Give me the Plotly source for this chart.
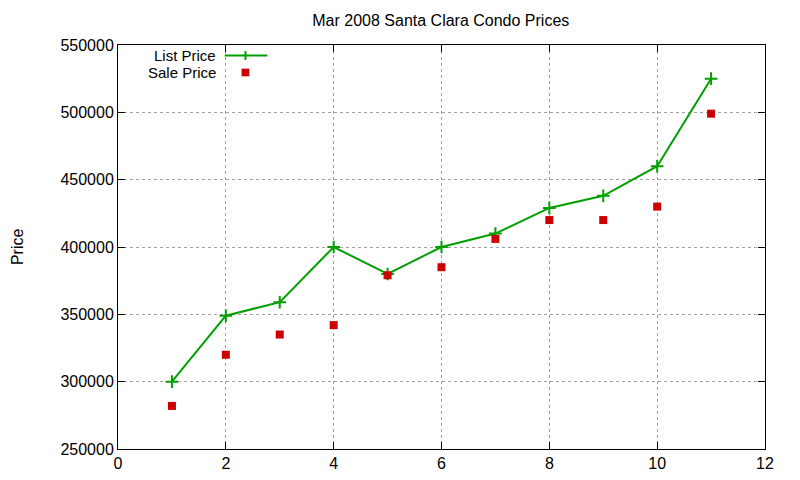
import plotly.graph_objects as go

# data
months = [1, 2, 3, 4, 5, 6, 7, 8, 9, 10, 11]
list_price = [300000, 349000, 359000, 400000, 380000, 400000, 410000, 429000, 438000, 460000, 525000]
sale_price = [282000, 320000, 335000, 342000, 379000, 385000, 406000, 420000, 420000, 430000, 499000]

x_ticks = [0, 2, 4, 6, 8, 10, 12]
y_ticks = [250000, 300000, 350000, 400000, 450000, 500000, 550000]

GREEN = "#00a000"
RED = "#cc0000"
FONT = "Liberation Sans, Arial, sans-serif"

fig = go.Figure()

fig.add_trace(go.Scatter(
    x=months, y=list_price, mode="lines+markers", name="List Price",
    line=dict(color=GREEN, width=2),
    marker=dict(symbol="cross-thin", size=9, line=dict(color=GREEN, width=2)),
))
fig.add_trace(go.Scatter(
    x=months, y=sale_price, mode="markers", name="Sale Price",
    marker=dict(symbol="square", size=8, color=RED),
))

# gnuplot-style legend: text on the left, sample on the right
lx0, lx1, lxm = 0.165, 0.231, 0.197
ly_list, ly_sale = 0.974, 0.932
fig.add_shape(type="line", xref="paper", yref="paper", x0=lx0, x1=lx1, y0=ly_list, y1=ly_list,
              line=dict(color=GREEN, width=2))
fig.add_shape(type="line", xref="paper", yref="paper", x0=lxm, x1=lxm, y0=ly_list - 0.011, y1=ly_list + 0.011,
              line=dict(color=GREEN, width=2))
fig.add_shape(type="rect", xref="paper", yref="paper", x0=lxm - 0.006, x1=lxm + 0.006,
              y0=ly_sale - 0.0095, y1=ly_sale + 0.0095, fillcolor=RED, line=dict(width=0))
for label, yy in [("List Price", ly_list), ("Sale Price", ly_sale)]:
    fig.add_annotation(text=label, xref="paper", yref="paper", x=lx0 - 0.012, y=yy,
                       xanchor="right", yanchor="middle", showarrow=False, borderpad=0,
                       font=dict(family=FONT, size=15, color="black"))

# y axis label, placed like gnuplot's (far left, rotated)
fig.add_annotation(text="Price", xref="paper", yref="paper", x=-0.156, y=0.5,
                   xanchor="center", yanchor="middle", textangle=-90, showarrow=False,
                   font=dict(family=FONT, size=16, color="black"))

axis_common = dict(
    showline=True, linecolor="black", linewidth=1, mirror="ticks",
    ticks="inside", ticklen=7, tickcolor="black", tickwidth=1,
    showgrid=True, gridcolor="#a0a0a0", griddash="dot", gridwidth=1,
    zeroline=False, automargin=False, tickfont=dict(family=FONT, size=16, color="black"),
)

fig.update_xaxes(range=[0, 12], tickvals=x_ticks, ticktext=[str(v) for v in x_ticks], **axis_common)
fig.update_yaxes(range=[250000, 550000], tickvals=y_ticks, ticktext=[str(v) for v in y_ticks], **axis_common)

# the page body adds an 8px offset, so margins are shifted to compensate
fig.update_layout(
    width=800, height=480,
    margin=dict(l=110, r=43, t=37, b=39),
    paper_bgcolor="white", plot_bgcolor="white",
    showlegend=False,
    title=dict(text="Mar 2008 Santa Clara Condo Prices", x=0.541, xanchor="center", y=0.975, yanchor="middle",
               font=dict(family=FONT, size=16, color="black")),
    font=dict(family=FONT, size=16, color="black"),
)

fig.write_html("out.html")
